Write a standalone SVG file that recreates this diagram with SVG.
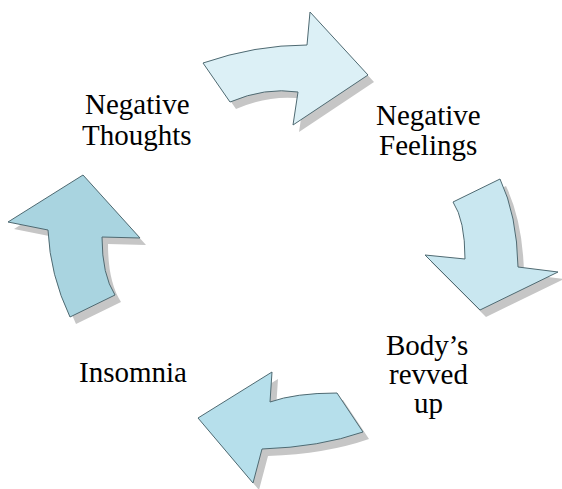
<svg xmlns="http://www.w3.org/2000/svg" width="562" height="489" viewBox="0 0 562 489">
<rect width="562" height="489" fill="#ffffff"/>
<g id="connectors">
<g id="shadows" fill="#c6c6c6" transform="translate(6,7)">
<path d="M203,63 Q255,45 307,45 L310,12 L368,75 L293,125 L298,92 Q265,87 230,102 Z"/>
<path d="M453,202 L500,179 Q517,215 518,267 L558,272 L480,310 L425,255 L465,259 Q465,220 453,202 Z"/>
<path d="M272,372 L270,402 Q295,393 337,393 L363,432 Q320,447 262,449 L253,483 L198,418 Z"/>
<path d="M83,175 L140,238 L102,237 Q102,275 115,295 L70,317 Q50,275 48,230 L8,222 Z"/>
</g>
<g stroke="#4f6a72" stroke-width="1">
<path id="arrow1" fill="#dcf0f6" d="M203,63 Q255,45 307,45 L310,12 L368,75 L293,125 L298,92 Q265,87 230,102 Z"/>
<path id="arrow2" fill="#c9e7f0" d="M453,202 L500,179 Q517,215 518,267 L558,272 L480,310 L425,255 L465,259 Q465,220 453,202 Z"/>
<path id="arrow3" fill="#b6dfeb" d="M272,372 L270,402 Q295,393 337,393 L363,432 Q320,447 262,449 L253,483 L198,418 Z"/>
<path id="arrow4" fill="#a9d4e0" d="M83,175 L140,238 L102,237 Q102,275 115,295 L70,317 Q50,275 48,230 L8,222 Z"/>
</g>
</g>
<g id="node-thoughts">
<text x="85" y="114" font-family="Liberation Serif" font-size="29">Negative</text>
<text x="82" y="145" font-family="Liberation Serif" font-size="29">Thoughts</text>
</g>
<g id="node-feelings">
<text x="376" y="125" font-family="Liberation Serif" font-size="29">Negative</text>
<text x="379" y="155" font-family="Liberation Serif" font-size="29">Feelings</text>
</g>
<g id="node-body">
<text x="386" y="355" font-family="Liberation Serif" font-size="29">Body&#8217;s</text>
<text x="389" y="384" font-family="Liberation Serif" font-size="29">revved</text>
<text x="414" y="413" font-family="Liberation Serif" font-size="29">up</text>
</g>
<g id="node-insomnia">
<text x="79" y="382" font-family="Liberation Serif" font-size="29">Insomnia</text>
</g>
</svg>
